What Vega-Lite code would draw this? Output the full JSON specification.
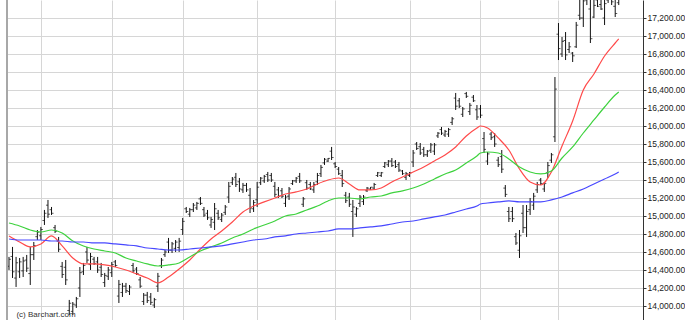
{
  "$schema": "https://vega.github.io/schema/vega-lite/v6.json",
  "width": 636,
  "height": 320,
  "autosize": {"type": "none"},
  "padding": {"left": 7, "right": 42, "top": 0, "bottom": 0},
  "background": "white",
  "config": {"view": {"stroke": null}, "font": "Liberation Sans"},
  "datasets": {
    "bars": [
      {"i":0,"o":14440,"h":14545,"l":14400,"c":14520},
      {"i":1,"o":14550,"h":14656,"l":14311,"c":14380},
      {"i":2,"o":14310,"h":14545,"l":14211,"c":14480},
      {"i":3,"o":14380,"h":14533,"l":14311,"c":14490},
      {"i":4,"o":14390,"h":14545,"l":14322,"c":14500},
      {"i":5,"o":14510,"h":14567,"l":14378,"c":14420},
      {"i":6,"o":14360,"h":14656,"l":14233,"c":14570},
      {"i":7,"o":14570,"h":14711,"l":14511,"c":14670},
      {"i":8,"o":14770,"h":14844,"l":14733,"c":14820},
      {"i":9,"o":14780,"h":14878,"l":14733,"c":14850},
      {"i":10,"o":14950,"h":15067,"l":14900,"c":15030},
      {"i":11,"o":15120,"h":15178,"l":14978,"c":15020},
      {"i":12,"o":15070,"h":15100,"l":15011,"c":15030},
      {"i":13,"o":14870,"h":14900,"l":14811,"c":14830},
      {"i":14,"o":14720,"h":14767,"l":14600,"c":14630},
      {"i":15,"o":14440,"h":14489,"l":14311,"c":14350},
      {"i":16,"o":14430,"h":14511,"l":14233,"c":14290},
      {"i":17,"o":13950,"h":14067,"l":13900,"c":14030},
      {"i":18,"o":13940,"h":14044,"l":13900,"c":14020},
      {"i":19,"o":14010,"h":14100,"l":13978,"c":14080},
      {"i":20,"o":14200,"h":14433,"l":14100,"c":14370},
      {"i":21,"o":14380,"h":14478,"l":14344,"c":14450},
      {"i":22,"o":14600,"h":14656,"l":14478,"c":14510},
      {"i":23,"o":14460,"h":14589,"l":14400,"c":14550},
      {"i":24,"o":14520,"h":14545,"l":14456,"c":14470},
      {"i":25,"o":14490,"h":14545,"l":14367,"c":14400},
      {"i":26,"o":14430,"h":14478,"l":14322,"c":14350},
      {"i":27,"o":14260,"h":14367,"l":14211,"c":14340},
      {"i":28,"o":14330,"h":14433,"l":14289,"c":14400},
      {"i":29,"o":14370,"h":14489,"l":14322,"c":14460},
      {"i":30,"o":14490,"h":14511,"l":14433,"c":14450},
      {"i":31,"o":14110,"h":14289,"l":14033,"c":14240},
      {"i":32,"o":14150,"h":14256,"l":14100,"c":14220},
      {"i":33,"o":14220,"h":14256,"l":14144,"c":14170},
      {"i":34,"o":14160,"h":14233,"l":14122,"c":14210},
      {"i":35,"o":14450,"h":14478,"l":14367,"c":14390},
      {"i":36,"o":14410,"h":14433,"l":14344,"c":14360},
      {"i":37,"o":14290,"h":14322,"l":14200,"c":14220},
      {"i":38,"o":14050,"h":14144,"l":14011,"c":14120},
      {"i":39,"o":14120,"h":14156,"l":14033,"c":14060},
      {"i":40,"o":14100,"h":14144,"l":14011,"c":14040},
      {"i":41,"o":14010,"h":14089,"l":13978,"c":14070},
      {"i":42,"o":14220,"h":14367,"l":14156,"c":14330},
      {"i":43,"o":14450,"h":14533,"l":14422,"c":14510},
      {"i":44,"o":14570,"h":14622,"l":14545,"c":14600},
      {"i":45,"o":14710,"h":14756,"l":14589,"c":14620},
      {"i":46,"o":14620,"h":14711,"l":14589,"c":14690},
      {"i":47,"o":14640,"h":14733,"l":14600,"c":14710},
      {"i":48,"o":14650,"h":14756,"l":14600,"c":14720},
      {"i":49,"o":14850,"h":14978,"l":14789,"c":14940},
      {"i":50,"o":15080,"h":15100,"l":15033,"c":15050},
      {"i":51,"o":15020,"h":15089,"l":14989,"c":15070},
      {"i":52,"o":15070,"h":15144,"l":15044,"c":15120},
      {"i":53,"o":15090,"h":15156,"l":15067,"c":15140},
      {"i":54,"o":15190,"h":15211,"l":15122,"c":15140},
      {"i":55,"o":15070,"h":15100,"l":14989,"c":15010},
      {"i":56,"o":15030,"h":15067,"l":14956,"c":14980},
      {"i":57,"o":14900,"h":14989,"l":14867,"c":14960},
      {"i":58,"o":14930,"h":15144,"l":14844,"c":15080},
      {"i":59,"o":15030,"h":15067,"l":14956,"c":14980},
      {"i":60,"o":14960,"h":15033,"l":14933,"c":15010},
      {"i":61,"o":15040,"h":15122,"l":15011,"c":15100},
      {"i":62,"o":15210,"h":15378,"l":15144,"c":15330},
      {"i":63,"o":15370,"h":15433,"l":15344,"c":15410},
      {"i":64,"o":15430,"h":15478,"l":15322,"c":15350},
      {"i":65,"o":15380,"h":15422,"l":15267,"c":15300},
      {"i":66,"o":15290,"h":15367,"l":15256,"c":15340},
      {"i":67,"o":15340,"h":15367,"l":15267,"c":15290},
      {"i":68,"o":15230,"h":15311,"l":15033,"c":15090},
      {"i":69,"o":15080,"h":15178,"l":15044,"c":15150},
      {"i":70,"o":15180,"h":15378,"l":15100,"c":15320},
      {"i":71,"o":15370,"h":15433,"l":15344,"c":15420},
      {"i":72,"o":15390,"h":15456,"l":15367,"c":15440},
      {"i":73,"o":15460,"h":15489,"l":15378,"c":15400},
      {"i":74,"o":15450,"h":15478,"l":15378,"c":15400},
      {"i":75,"o":15330,"h":15378,"l":15211,"c":15240},
      {"i":76,"o":15290,"h":15322,"l":15200,"c":15220},
      {"i":77,"o":15280,"h":15311,"l":15200,"c":15220},
      {"i":78,"o":15140,"h":15233,"l":15100,"c":15210},
      {"i":79,"o":15220,"h":15322,"l":15178,"c":15300},
      {"i":80,"o":15360,"h":15400,"l":15344,"c":15390},
      {"i":81,"o":15390,"h":15433,"l":15367,"c":15420},
      {"i":82,"o":15440,"h":15478,"l":15367,"c":15390},
      {"i":83,"o":15130,"h":15211,"l":15100,"c":15190},
      {"i":84,"o":15370,"h":15400,"l":15289,"c":15310},
      {"i":85,"o":15350,"h":15378,"l":15289,"c":15300},
      {"i":86,"o":15290,"h":15378,"l":15256,"c":15350},
      {"i":87,"o":15380,"h":15478,"l":15344,"c":15450},
      {"i":88,"o":15470,"h":15567,"l":15433,"c":15540},
      {"i":89,"o":15590,"h":15644,"l":15567,"c":15630},
      {"i":90,"o":15610,"h":15644,"l":15600,"c":15640},
      {"i":91,"o":15720,"h":15767,"l":15622,"c":15650},
      {"i":92,"o":15580,"h":15600,"l":15533,"c":15550},
      {"i":93,"o":15520,"h":15544,"l":15456,"c":15470},
      {"i":94,"o":15450,"h":15511,"l":15322,"c":15360},
      {"i":95,"o":15230,"h":15267,"l":15144,"c":15170},
      {"i":96,"o":15210,"h":15256,"l":15100,"c":15130},
      {"i":97,"o":15050,"h":15178,"l":14767,"c":15100},
      {"i":98,"o":15020,"h":15100,"l":14989,"c":15080},
      {"i":99,"o":15140,"h":15233,"l":15100,"c":15210},
      {"i":100,"o":15160,"h":15233,"l":15122,"c":15210},
      {"i":101,"o":15280,"h":15322,"l":15267,"c":15310},
      {"i":102,"o":15300,"h":15322,"l":15289,"c":15320},
      {"i":103,"o":15310,"h":15367,"l":15289,"c":15350},
      {"i":104,"o":15450,"h":15489,"l":15433,"c":15480},
      {"i":105,"o":15450,"h":15489,"l":15433,"c":15480},
      {"i":106,"o":15550,"h":15600,"l":15533,"c":15590},
      {"i":107,"o":15570,"h":15622,"l":15544,"c":15610},
      {"i":108,"o":15610,"h":15644,"l":15544,"c":15560},
      {"i":109,"o":15600,"h":15622,"l":15533,"c":15550},
      {"i":110,"o":15570,"h":15600,"l":15489,"c":15510},
      {"i":111,"o":15500,"h":15511,"l":15456,"c":15470},
      {"i":112,"o":15430,"h":15489,"l":15400,"c":15470},
      {"i":113,"o":15450,"h":15489,"l":15433,"c":15480},
      {"i":114,"o":15600,"h":15733,"l":15544,"c":15700},
      {"i":115,"o":15800,"h":15822,"l":15733,"c":15750},
      {"i":116,"o":15770,"h":15811,"l":15678,"c":15700},
      {"i":117,"o":15740,"h":15767,"l":15656,"c":15680},
      {"i":118,"o":15680,"h":15733,"l":15656,"c":15720},
      {"i":119,"o":15730,"h":15811,"l":15700,"c":15790},
      {"i":120,"o":15720,"h":15811,"l":15678,"c":15790},
      {"i":121,"o":15890,"h":15933,"l":15867,"c":15920},
      {"i":122,"o":15960,"h":15989,"l":15900,"c":15920},
      {"i":123,"o":15900,"h":15956,"l":15878,"c":15940},
      {"i":124,"o":15910,"h":15978,"l":15878,"c":15960},
      {"i":125,"o":16040,"h":16100,"l":16011,"c":16080},
      {"i":126,"o":16310,"h":16367,"l":16178,"c":16220},
      {"i":127,"o":16280,"h":16311,"l":16200,"c":16220},
      {"i":128,"o":16130,"h":16211,"l":16100,"c":16190},
      {"i":129,"o":16360,"h":16378,"l":16311,"c":16330},
      {"i":130,"o":16160,"h":16256,"l":16122,"c":16230},
      {"i":131,"o":16320,"h":16344,"l":16267,"c":16280},
      {"i":132,"o":16180,"h":16233,"l":16067,"c":16100},
      {"i":133,"o":16190,"h":16233,"l":16089,"c":16120},
      {"i":134,"o":15860,"h":15933,"l":15700,"c":15740},
      {"i":135,"o":15610,"h":15711,"l":15567,"c":15690},
      {"i":136,"o":15910,"h":15933,"l":15844,"c":15870},
      {"i":137,"o":15880,"h":15922,"l":15767,"c":15800},
      {"i":138,"o":15620,"h":15656,"l":15544,"c":15570},
      {"i":139,"o":15660,"h":15733,"l":15478,"c":15520},
      {"i":140,"o":15310,"h":15344,"l":15211,"c":15240},
      {"i":141,"o":15050,"h":15100,"l":14933,"c":14970},
      {"i":142,"o":15050,"h":15100,"l":14933,"c":14970},
      {"i":143,"o":14770,"h":14811,"l":14678,"c":14700},
      {"i":144,"o":14620,"h":14844,"l":14533,"c":14780},
      {"i":145,"o":15030,"h":15122,"l":14811,"c":14870},
      {"i":146,"o":14870,"h":15122,"l":14767,"c":15050},
      {"i":147,"o":15070,"h":15200,"l":15011,"c":15160},
      {"i":148,"o":15120,"h":15256,"l":15067,"c":15220},
      {"i":149,"o":15290,"h":15378,"l":15256,"c":15350},
      {"i":150,"o":15400,"h":15422,"l":15344,"c":15360},
      {"i":151,"o":15300,"h":15378,"l":15267,"c":15360},
      {"i":152,"o":15480,"h":15600,"l":15422,"c":15560},
      {"i":153,"o":15620,"h":15700,"l":15589,"c":15680},
      {"i":154,"o":15880,"h":16544,"l":15822,"c":16410},
      {"i":155,"o":17020,"h":17144,"l":16733,"c":16860},
      {"i":156,"o":16800,"h":16989,"l":16767,"c":16940},
      {"i":157,"o":16950,"h":17044,"l":16733,"c":16790},
      {"i":158,"o":16850,"h":16933,"l":16811,"c":16880},
      {"i":159,"o":16810,"h":16822,"l":16711,"c":16780},
      {"i":160,"o":16880,"h":17156,"l":16867,"c":17120},
      {"i":161,"o":17230,"h":17440,"l":17178,"c":17200},
      {"i":162,"o":17200,"h":17480,"l":17100,"c":17390},
      {"i":163,"o":17400,"h":17500,"l":17344,"c":17490},
      {"i":164,"o":17300,"h":17460,"l":16922,"c":16970},
      {"i":165,"o":17210,"h":17420,"l":17200,"c":17340},
      {"i":166,"o":17400,"h":17460,"l":17322,"c":17330},
      {"i":167,"o":17350,"h":17450,"l":17289,"c":17300},
      {"i":168,"o":17200,"h":17480,"l":17122,"c":17360},
      {"i":169,"o":17400,"h":17500,"l":17367,"c":17410},
      {"i":170,"o":17420,"h":17480,"l":17344,"c":17380},
      {"i":171,"o":17330,"h":17420,"l":17211,"c":17250},
      {"i":172,"o":17370,"h":17470,"l":17344,"c":17450}
    ],
    "ma": [
      {"i":0,"r":14778,"g":14922,"b":14744},
      {"i":3,"r":14711,"g":14889,"b":14733},
      {"i":6,"r":14656,"g":14844,"b":14733},
      {"i":9,"r":14689,"g":14822,"b":14733},
      {"i":12,"r":14778,"g":14844,"b":14722},
      {"i":15,"r":14667,"g":14811,"b":14722},
      {"i":18,"r":14533,"g":14722,"b":14711},
      {"i":21,"r":14467,"g":14667,"b":14711},
      {"i":24,"r":14467,"g":14633,"b":14700},
      {"i":27,"r":14456,"g":14611,"b":14700},
      {"i":30,"r":14433,"g":14589,"b":14689},
      {"i":33,"r":14400,"g":14533,"b":14678},
      {"i":36,"r":14356,"g":14500,"b":14667},
      {"i":39,"r":14311,"g":14467,"b":14644},
      {"i":42,"r":14256,"g":14444,"b":14633},
      {"i":45,"r":14322,"g":14456,"b":14622},
      {"i":48,"r":14411,"g":14478,"b":14622},
      {"i":51,"r":14511,"g":14544,"b":14633},
      {"i":54,"r":14633,"g":14611,"b":14644},
      {"i":57,"r":14744,"g":14656,"b":14656},
      {"i":60,"r":14833,"g":14700,"b":14667},
      {"i":63,"r":14933,"g":14756,"b":14689},
      {"i":66,"r":15044,"g":14800,"b":14711},
      {"i":69,"r":15111,"g":14856,"b":14733},
      {"i":72,"r":15156,"g":14900,"b":14744},
      {"i":75,"r":15200,"g":14944,"b":14767},
      {"i":78,"r":15244,"g":15000,"b":14778},
      {"i":81,"r":15267,"g":15022,"b":14800},
      {"i":84,"r":15300,"g":15067,"b":14811},
      {"i":87,"r":15356,"g":15111,"b":14822},
      {"i":90,"r":15400,"g":15167,"b":14833},
      {"i":93,"r":15422,"g":15200,"b":14856},
      {"i":96,"r":15356,"g":15200,"b":14856},
      {"i":99,"r":15289,"g":15189,"b":14867},
      {"i":102,"r":15289,"g":15211,"b":14878},
      {"i":105,"r":15311,"g":15222,"b":14889},
      {"i":108,"r":15378,"g":15256,"b":14911},
      {"i":111,"r":15433,"g":15278,"b":14933},
      {"i":114,"r":15489,"g":15311,"b":14944},
      {"i":117,"r":15544,"g":15356,"b":14967},
      {"i":120,"r":15611,"g":15411,"b":14989},
      {"i":123,"r":15678,"g":15467,"b":15011},
      {"i":126,"r":15767,"g":15511,"b":15044},
      {"i":129,"r":15889,"g":15589,"b":15078},
      {"i":132,"r":15978,"g":15667,"b":15111},
      {"i":133,"r":16000,"g":15700,"b":15133},
      {"i":135,"r":15978,"g":15711,"b":15144},
      {"i":138,"r":15867,"g":15700,"b":15156},
      {"i":141,"r":15733,"g":15633,"b":15167},
      {"i":144,"r":15522,"g":15544,"b":15156},
      {"i":147,"r":15378,"g":15489,"b":15156},
      {"i":150,"r":15344,"g":15467,"b":15156},
      {"i":153,"r":15489,"g":15500,"b":15178},
      {"i":156,"r":15778,"g":15644,"b":15211},
      {"i":159,"r":16056,"g":15767,"b":15256},
      {"i":162,"r":16400,"g":15922,"b":15300},
      {"i":165,"r":16578,"g":16067,"b":15356},
      {"i":168,"r":16778,"g":16211,"b":15411},
      {"i":171,"r":16922,"g":16344,"b":15467},
      {"i":172,"r":16967,"g":16378,"b":15489}
    ]
  },
  "encoding": {
    "x": {"field": "i", "type": "quantitative", "scale": {"domain": [-0.56, 178.84], "nice": false, "zero": false}, "axis": {"values": [9, 29, 49, 70, 92, 113, 133, 155], "grid": true, "gridColor": "#d6d6d6", "gridWidth": 1, "labels": false, "ticks": false, "domain": false, "title": null}}
  },
  "layer": [
    {
      "data": {"name": "bars"},
      "mark": {"type": "rule", "color": "#111", "strokeWidth": 1, "clip": true},
      "encoding": {
        "y": {"field": "l", "type": "quantitative", "scale": {"domain": [13844, 17400], "nice": false, "zero": false}, "axis": {"orient": "right", "values": [14000, 14200, 14400, 14600, 14800, 15000, 15200, 15400, 15600, 15800, 16000, 16200, 16400, 16600, 16800, 17000, 17200], "format": ",.2f", "grid": true, "gridColor": "#d6d6d6", "gridWidth": 1, "domainColor": "#333", "tickColor": "#333", "tickSize": 3, "labelFontSize": 8.5, "labelColor": "#222", "labelPadding": 1, "labelFont": "Liberation Sans", "labelOverlap": false, "labelBound": false, "labelFlush": false, "title": null}},
        "y2": {"field": "h"}
      }
    },
    {
      "data": {"values": [{"t": "(c) Barchart.com", "i": 2.1, "y": 13872}]},
      "mark": {"type": "text", "align": "left", "baseline": "alphabetic", "fontSize": 8, "color": "#333", "font": "Liberation Sans"},
      "encoding": {
        "y": {"field": "y", "type": "quantitative", "scale": {"domain": [13844, 17400], "nice": false, "zero": false}, "axis": {"orient": "right", "values": [14000, 14200, 14400, 14600, 14800, 15000, 15200, 15400, 15600, 15800, 16000, 16200, 16400, 16600, 16800, 17000, 17200], "format": ",.2f", "grid": true, "gridColor": "#d6d6d6", "gridWidth": 1, "domainColor": "#333", "tickColor": "#333", "tickSize": 3, "labelFontSize": 8.5, "labelColor": "#222", "labelPadding": 1, "labelFont": "Liberation Sans", "labelOverlap": false, "labelBound": false, "labelFlush": false, "title": null}},
        "text": {"field": "t"}
      }
    },
    {
      "data": {"name": "bars"},
      "mark": {"type": "tick", "orient": "horizontal", "size": 2, "thickness": 1, "xOffset": -1, "color": "#111", "clip": true},
      "encoding": {
        "y": {"field": "o", "type": "quantitative", "scale": {"domain": [13844, 17400], "nice": false, "zero": false}, "axis": {"orient": "right", "values": [14000, 14200, 14400, 14600, 14800, 15000, 15200, 15400, 15600, 15800, 16000, 16200, 16400, 16600, 16800, 17000, 17200], "format": ",.2f", "grid": true, "gridColor": "#d6d6d6", "gridWidth": 1, "domainColor": "#333", "tickColor": "#333", "tickSize": 3, "labelFontSize": 8.5, "labelColor": "#222", "labelPadding": 1, "labelFont": "Liberation Sans", "labelOverlap": false, "labelBound": false, "labelFlush": false, "title": null}}
      }
    },
    {
      "data": {"name": "bars"},
      "mark": {"type": "tick", "orient": "horizontal", "size": 2, "thickness": 1, "xOffset": 1, "color": "#111", "clip": true},
      "encoding": {
        "y": {"field": "c", "type": "quantitative", "scale": {"domain": [13844, 17400], "nice": false, "zero": false}, "axis": {"orient": "right", "values": [14000, 14200, 14400, 14600, 14800, 15000, 15200, 15400, 15600, 15800, 16000, 16200, 16400, 16600, 16800, 17000, 17200], "format": ",.2f", "grid": true, "gridColor": "#d6d6d6", "gridWidth": 1, "domainColor": "#333", "tickColor": "#333", "tickSize": 3, "labelFontSize": 8.5, "labelColor": "#222", "labelPadding": 1, "labelFont": "Liberation Sans", "labelOverlap": false, "labelBound": false, "labelFlush": false, "title": null}}
      }
    },
    {
      "data": {"name": "ma"},
      "transform": [{"fold": ["r", "g", "b"], "as": ["s", "v"]}],
      "mark": {"type": "line", "strokeWidth": 1.2, "interpolate": "monotone", "clip": true},
      "encoding": {
        "y": {"field": "v", "type": "quantitative", "scale": {"domain": [13844, 17400], "nice": false, "zero": false}, "axis": {"orient": "right", "values": [14000, 14200, 14400, 14600, 14800, 15000, 15200, 15400, 15600, 15800, 16000, 16200, 16400, 16600, 16800, 17000, 17200], "format": ",.2f", "grid": true, "gridColor": "#d6d6d6", "gridWidth": 1, "domainColor": "#333", "tickColor": "#333", "tickSize": 3, "labelFontSize": 8.5, "labelColor": "#222", "labelPadding": 1, "labelFont": "Liberation Sans", "labelOverlap": false, "labelBound": false, "labelFlush": false, "title": null}},
        "color": {"field": "s", "type": "nominal", "scale": {"domain": ["r", "g", "b"], "range": ["#ff4a4a", "#3ed23e", "#4848ff"]}, "legend": null}
      }
    },
    {
      "data": {"values": [{"i": -0.56}]},
      "mark": {"type": "rule", "color": "#a8a8a8", "strokeWidth": 2},
      "encoding": {}
    }
  ]
}
